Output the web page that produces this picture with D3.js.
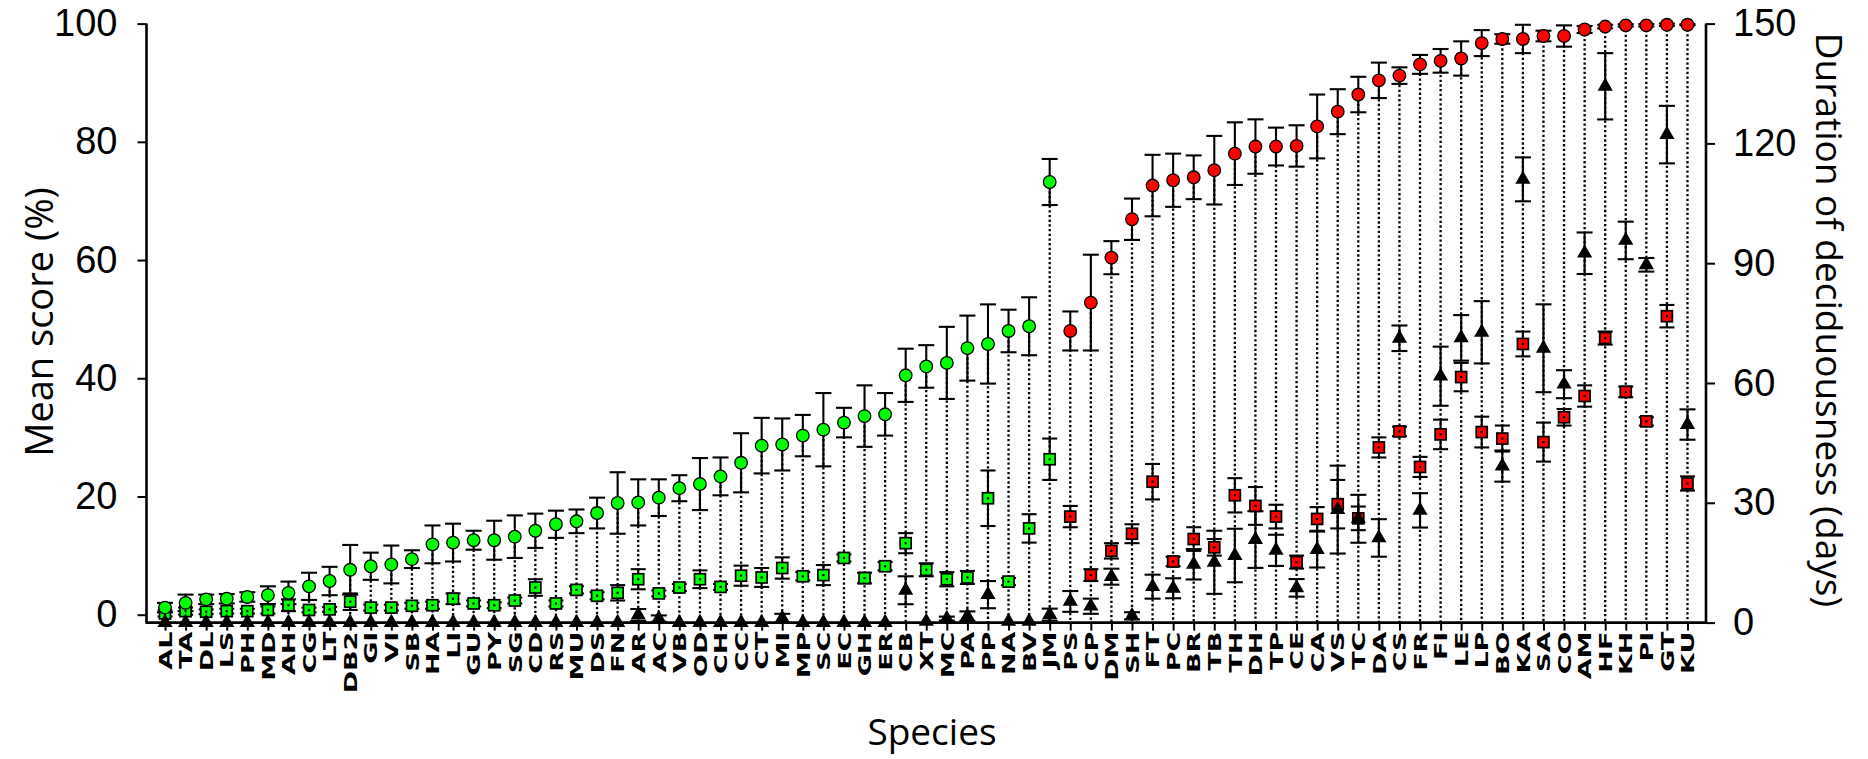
<!DOCTYPE html>
<html><head><meta charset="utf-8">
<script src="https://cdn.jsdelivr.net/npm/d3@7"></script>
<style>body{margin:0;background:#fff}</style>
</head><body>
<svg id="chart" width="1868" height="759"></svg>
<script>
const species = ["AL","TA","DL","LS","PH","MD","AH","CG","LT","DB2","GI","VI","SB","HA","LI","GU","PY","SG","CD","RS","MU","DS","FN","AR","AC","VB","OD","CH","CC","CT","MI","MP","SC","EC","GH","ER","CB","XT","MC","PA","PP","NA","BV","JM","PS","CP","DM","SH","FT","PC","BR","TB","TH","DH","TP","CE","CA","VS","TC","DA","CS","FR","FI","LE","LP","BO","KA","SA","CO","AM","HF","KH","PI","GT","KU"];
// circles: mean score (%)
const scoreMean = [1.2,2.0,2.6,2.7,3.0,3.3,3.7,4.8,5.7,7.6,8.2,8.5,9.4,11.9,12.2,12.6,12.6,13.2,14.2,15.3,15.8,17.2,18.9,19.0,19.8,21.4,22.1,23.4,25.7,28.6,28.8,30.3,31.3,32.5,33.6,33.9,40.5,42.0,42.6,45.1,45.8,48.0,48.8,73.2,48.0,52.8,60.4,66.9,72.6,73.5,74.0,75.2,78.0,79.2,79.2,79.3,82.6,85.1,88.0,90.4,91.2,93.1,93.7,94.1,96.7,97.4,97.4,97.9,97.9,99.0,99.5,99.7,99.7,99.8,99.8];
const scoreSE = [0.8,1.4,0.8,0.8,0.8,1.5,1.9,2.3,2.4,4.2,2.3,3.2,1.5,3.2,3.2,1.6,3.3,3.6,2.9,2.3,2.0,2.6,5.2,3.9,3.1,2.2,4.4,3.2,5.0,4.7,4.4,3.5,6.2,2.5,5.2,3.6,4.5,3.6,6.1,5.5,6.7,3.6,4.9,3.9,3.3,8.1,2.8,3.5,5.2,4.5,3.7,5.8,5.3,4.6,3.2,3.5,5.4,3.8,3.0,3.0,1.4,1.6,2.0,2.9,2.2,0.8,2.4,0.9,1.8,0.6,0.3,0.2,0.2,0.2,0.1];
// squares: second score (%)
const pctMean = [0.2,0.6,0.5,0.6,0.6,0.8,1.6,0.8,0.9,2.2,1.2,1.2,1.5,1.6,2.7,1.9,1.6,2.4,4.6,1.9,4.2,3.2,3.7,6.0,3.6,4.6,6.0,4.7,6.6,6.3,7.9,6.5,6.7,9.6,6.2,8.2,12.1,7.6,6.0,6.3,19.7,5.6,14.6,26.3,16.6,6.7,10.8,13.7,22.5,9.0,12.8,11.4,20.2,18.4,16.6,8.9,16.2,18.7,16.3,28.3,31.0,25.0,30.5,40.2,30.9,29.8,45.8,29.2,33.4,37.0,46.8,37.7,32.7,50.5,22.2];
const pctSE = [0.5,0.6,0.4,0.4,0.4,0.6,1.0,0.4,0.4,1.4,0.5,0.5,0.5,0.6,0.9,0.5,0.5,0.5,1.4,0.5,0.6,0.6,1.3,1.7,0.5,0.6,1.5,0.5,1.7,1.6,1.8,0.7,1.7,0.6,0.9,0.7,1.7,1.1,1.2,1.1,4.7,0.6,2.4,3.5,1.8,1.0,1.3,1.6,3.0,0.8,2.0,1.4,2.9,3.2,2.0,1.1,2.0,4.1,2.0,1.7,0.8,1.7,2.5,2.4,2.6,2.2,2.1,3.3,1.4,1.8,1.1,0.9,0.7,1.9,1.2];
// triangles: duration of deciduousness (days)
const daysMean = [0,0,0,0,0,0,0,0,0,0,0,0,0,0,0,0,0,0,0,0,0,0,0,1.9,1.0,0,0,0,0,0,1.1,0,0,0,0,0,8.1,0.3,1.0,1.6,7.0,0.3,0.3,2.0,5.3,4.1,11.5,1.7,9.0,8.6,14.6,15.1,16.8,20.8,18.1,8.7,18.3,28.3,26.0,21.2,71.2,28.1,61.7,71.3,72.7,39.2,111.0,68.7,59.7,92.5,134.3,95.7,89.6,122.2,49.6];
const daysSE = [0,0,0,0,0,0,0,0,0,0,0,0,0,0,0,0,0,0,0,0,0,0,0,1.5,0.8,0,0,0,0,0,1.1,0,0,0,0,0,3.5,0,0.5,1.2,3.4,0,0,1.5,2.6,1.9,2.0,0.9,3.0,2.5,3.8,7.9,6.7,7.1,3.9,2.2,4.5,11.0,6.0,4.7,3.2,4.3,7.4,5.7,7.8,3.9,5.5,11.0,3.5,5.2,8.3,4.7,1.7,7.2,3.8];
const leftTicks = [0,20,40,60,80,100];
const rightTicks = [0,30,60,90,120,150];
const firstRed = "PS";

const svg = d3.select("#chart");
const L = 146.5, R = 1706, T = 23.6, B = 622.6;
const x = d3.scalePoint().domain(species).range([L, R]).padding(0.9);
const yL = d3.scaleLinear().domain([0, 100]).range([614.7, T]);
const yR = d3.scaleLinear().domain([0, 150]).range([B, T]);
const redStart = species.indexOf(firstRed);
const fillOf = i => i >= redStart ? "#ff0000" : "#00ff00";
const idx = d3.range(species.length);

// dotted drop lines
svg.append("g").selectAll("line").data(idx).join("line")
  .attr("x1", i => x(species[i])).attr("x2", i => x(species[i]))
  .attr("y1", i => yL(scoreMean[i])).attr("y2", B)
  .attr("stroke", "#000").attr("stroke-width", 2.3).attr("stroke-dasharray", "2.3,2.4");

function errBars(mean, se, scale, cap) {
  const g = svg.append("g").attr("stroke", "#000").attr("stroke-width", 2.1);
  const d = idx.filter(i => se[i] > 0);
  g.selectAll("line.v").data(d).join("line").attr("class", "v")
    .attr("x1", i => x(species[i])).attr("x2", i => x(species[i]))
    .attr("y1", i => scale(mean[i] + se[i])).attr("y2", i => scale(mean[i] - se[i]));
  g.selectAll("line.t").data(d).join("line").attr("class", "t")
    .attr("x1", i => x(species[i]) - cap).attr("x2", i => x(species[i]) + cap)
    .attr("y1", i => scale(mean[i] + se[i])).attr("y2", i => scale(mean[i] + se[i]));
  g.selectAll("line.b").data(d).join("line").attr("class", "b")
    .attr("x1", i => x(species[i]) - cap).attr("x2", i => x(species[i]) + cap)
    .attr("y1", i => scale(mean[i] - se[i])).attr("y2", i => scale(mean[i] - se[i]));
}

errBars(scoreMean, scoreSE, yL, 8);
errBars(pctMean, pctSE, yL, 7.5);
errBars(daysMean, daysSE, yR, 8);

// squares
const sq = 11;
svg.append("g").selectAll("rect").data(idx).join("rect")
  .attr("x", i => x(species[i]) - sq / 2).attr("y", i => yL(pctMean[i]) - sq / 2)
  .attr("width", sq).attr("height", sq)
  .attr("fill", fillOf).attr("stroke", "#000").attr("stroke-width", 1.7);
svg.append("g").selectAll("rect").data(idx).join("rect")
  .attr("x", i => x(species[i]) - 1.1).attr("y", i => yL(pctMean[i]) - 1.1)
  .attr("width", 2.2).attr("height", 2.2).attr("fill", "#000");

// triangles
const tri = d3.symbol(d3.symbolTriangle, 100);
svg.append("g").selectAll("path").data(idx).join("path")
  .attr("d", tri)
  .attr("transform", i => `translate(${x(species[i])},${yR(daysMean[i])})`)
  .attr("fill", "#000");

// circles
svg.append("g").selectAll("circle").data(idx).join("circle")
  .attr("cx", i => x(species[i])).attr("cy", i => yL(scoreMean[i])).attr("r", 6.3)
  .attr("fill", fillOf).attr("stroke", "#000").attr("stroke-width", 1.3);

// axes
const numFont = "'Liberation Sans', Arial, sans-serif";
const gl = svg.append("g").attr("transform", `translate(${L},0)`)
  .call(d3.axisLeft(yL).tickValues(leftTicks).tickSize(9).tickSizeOuter(0).tickPadding(20));
gl.select(".domain").remove();
gl.selectAll(".tick line").attr("stroke-width", 2);
gl.selectAll(".tick text").attr("font-family", numFont).attr("font-size", 38).attr("fill", "#000");

const gr = svg.append("g").attr("transform", `translate(${R},0)`)
  .call(d3.axisRight(yR).tickValues(rightTicks).tickSize(9).tickSizeOuter(0).tickPadding(18));
gr.select(".domain").remove();
gr.selectAll(".tick line").attr("stroke-width", 2);
gr.selectAll(".tick text").attr("font-family", numFont).attr("font-size", 38).attr("fill", "#000");

const gx = svg.append("g").attr("transform", `translate(0,${B})`)
  .call(d3.axisBottom(x).tickSize(8).tickSizeOuter(0));
gx.select(".domain").remove();
gx.selectAll(".tick line").attr("stroke-width", 2);
gx.selectAll(".tick text")
  .attr("font-family", "'DejaVu Sans', sans-serif").attr("font-weight", "bold").attr("font-size", 27)
  .attr("fill", "#000").attr("text-anchor", "end")
  .attr("transform", "translate(0,9) rotate(-90) scale(1,0.64)").attr("x", 0).attr("y", 0).attr("dy", "0.36em");

// axis lines
const axes = svg.append("g").attr("stroke", "#000").attr("stroke-width", 2.6).attr("fill", "none");
axes.append("line").attr("x1", L).attr("x2", L).attr("y1", yL(100)).attr("y2", B);
axes.append("line").attr("x1", R).attr("x2", R).attr("y1", yR(150)).attr("y2", B);
axes.append("line").attr("x1", L - 1).attr("x2", R + 1).attr("y1", B).attr("y2", B);

// titles
const titleFont = "'Open Sans', sans-serif";
svg.append("text").attr("transform", "translate(38,322) rotate(-90)")
  .attr("text-anchor", "middle").attr("dominant-baseline", "central")
  .attr("font-family", titleFont).attr("font-size", 38).text("Mean score (%)");
svg.append("text").attr("transform", "translate(1830,320) rotate(90)")
  .attr("text-anchor", "middle").attr("dominant-baseline", "central")
  .attr("font-family", titleFont).attr("font-size", 37).text("Duration of deciduousness (days)");
svg.append("text").attr("x", 932).attr("y", 745).attr("text-anchor", "middle")
  .attr("font-family", titleFont).attr("font-size", 37).text("Species");
</script>
</body></html>
